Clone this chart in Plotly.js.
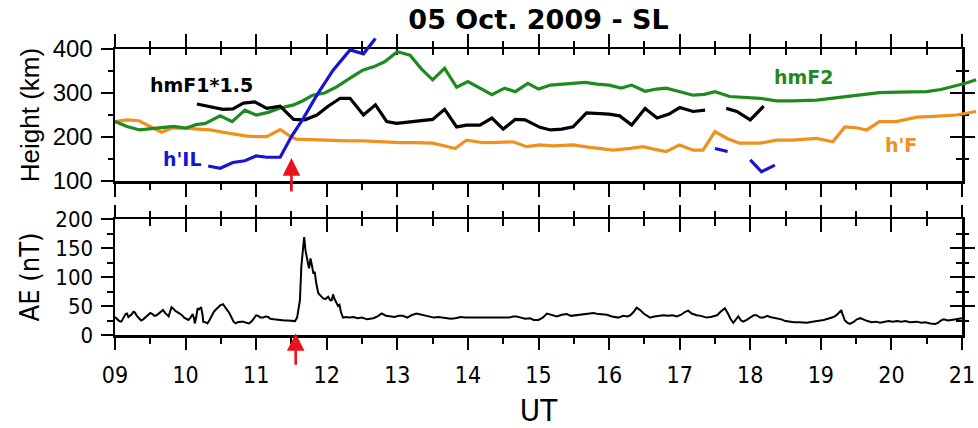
<!DOCTYPE html>
<html><head><meta charset="utf-8">
<script src="https://cdn.plot.ly/plotly-3.0.1.min.js"></script>
<style>html,body{margin:0;padding:0;background:#fff}#chart{width:978px;height:428px}</style>
</head><body><div id="chart"></div>
<script>
// ---------------- data ----------------
const hourTicks = [9,10,11,12,13,14,15,16,17,18,19,20,21];
const hourLabels = ['09','10','11','12','13','14','15','16','17','18','19','20','21'];

const hmF2T = [9.0,9.17,9.35,9.5,9.67,9.83,10.0,10.15,10.28,10.49,10.66,10.84,11.0,11.17,11.34,11.53,11.67,11.8,11.97,12.14,12.33,12.51,12.67,12.82,13.0,13.18,13.34,13.5,13.67,13.84,14.0,14.17,14.34,14.52,14.67,14.85,15.0,15.17,15.34,15.5,15.66,15.83,16.0,16.17,16.32,16.51,16.67,16.81,17.0,17.19,17.35,17.5,17.71,17.9,18.14,18.37,18.6,18.94,19.15,19.36,19.6,19.83,20.1,20.3,20.5,20.7,20.87,21.05,21.2];
const hmF2V = [235,224,216,218,221,224,220,228,231,248,235,261,250,256,266,273,283,295,300,314,334,352,360,371,394,386,355,330,356,313,326,310,296,311,303,322,309,318,320,322,324,320,318,311,318,304,309,311,303,295,297,303,292,290,288,282,282,284,288,293,297,301,302,302,303,308,314,322,330];

const hFT = [9.0,9.17,9.34,9.5,9.66,9.8,10.0,10.17,10.35,10.52,10.7,10.87,11.0,11.15,11.34,11.5,11.57,11.75,11.92,12.09,12.3,12.52,12.7,12.87,13.04,13.25,13.5,13.66,13.82,13.98,14.22,14.42,14.64,14.83,15.02,15.2,15.49,15.7,15.9,16.06,16.3,16.48,16.65,16.81,17.0,17.19,17.33,17.5,17.68,17.85,18.0,18.14,18.37,18.6,18.94,19.17,19.34,19.5,19.65,19.83,20.07,20.36,20.6,20.92,21.2];
const hFV = [235,239,237,223,211,220,220,218,216,211,206,202,201,201,217,200,195,194,192,191,191,191,189,188,187,187,186,180,174,193,187,188,189,178,182,180,182,177,174,170,174,178,172,167,182,170,170,212,196,186,186,186,193,193,197,189,223,221,216,235,235,245,247,250,258];

const hmF1T = [10.16,10.33,10.53,10.67,10.82,10.98,11.15,11.34,11.53,11.69,11.86,12.02,12.19,12.33,12.52,12.69,12.85,12.99,13.16,13.32,13.5,13.67,13.84,13.98,14.17,14.34,14.5,14.67,14.81,15.02,15.17,15.33,15.49,15.68,15.85,16.0,16.15,16.32,16.51,16.68,16.85,17.0,17.19,17.36,17.5,17.66,17.81,18.0,18.19];
const hmF1V = [275,270,263,264,277,280,265,270,240,239,250,270,288,288,250,273,235,231,234,235,240,263,223,227,227,243,218,240,239,222,216,218,223,255,253,252,248,227,265,243,252,267,258,261,null,265,258,239,270];

const hILT = [10.32,10.49,10.67,10.84,11.0,11.15,11.34,11.5,11.67,11.86,12.09,12.33,12.52,12.69,13.0,17.5,17.68,17.85,18.0,18.16,18.35];
const hILV = [134,129,142,146,157,154,154,201,243,295,352,398,389,424,null,174,167,null,148,121,136];

const aeT = [9.00,9.03,9.06,9.09,9.12,9.15,9.17,9.19,9.21,9.24,9.26,9.28,9.31,9.34,9.37,9.40,9.43,9.46,9.50,9.53,9.56,9.59,9.62,9.65,9.68,9.71,9.74,9.76,9.78,9.80,9.83,9.86,9.89,9.92,9.95,9.98,10.01,10.04,10.07,10.10,10.12,10.13,10.15,10.17,10.19,10.22,10.24,10.25,10.28,10.31,10.34,10.37,10.40,10.43,10.46,10.49,10.53,10.56,10.59,10.62,10.65,10.68,10.71,10.74,10.78,10.82,10.86,10.90,10.94,10.97,11.00,11.03,11.06,11.10,11.13,11.17,11.20,11.25,11.30,11.35,11.40,11.45,11.50,11.55,11.58,11.60,11.62,11.64,11.66,11.68,11.70,11.72,11.74,11.75,11.77,11.79,11.81,11.83,11.85,11.88,11.91,11.95,11.98,12.02,12.05,12.07,12.09,12.11,12.14,12.16,12.18,12.20,12.23,12.27,12.32,12.38,12.44,12.50,12.57,12.62,12.66,12.72,12.78,12.84,12.90,12.96,13.02,13.08,13.14,13.20,13.27,13.33,13.40,13.46,13.52,13.58,13.64,13.70,13.76,13.82,13.90,13.96,14.03,14.10,14.18,14.25,14.32,14.40,14.45,14.52,14.58,14.64,14.69,14.75,14.81,14.88,14.93,15.00,15.06,15.12,15.19,15.26,15.33,15.40,15.46,15.53,15.59,15.66,15.72,15.78,15.85,15.91,15.97,16.04,16.10,16.13,16.20,16.26,16.30,16.35,16.39,16.44,16.49,16.53,16.58,16.64,16.70,16.77,16.84,16.90,16.96,17.02,17.08,17.12,17.17,17.24,17.30,17.38,17.44,17.50,17.53,17.58,17.64,17.68,17.72,17.76,17.80,17.83,17.87,17.90,17.95,18.00,18.05,18.09,18.14,18.19,18.24,18.28,18.33,18.38,18.44,18.50,18.56,18.62,18.70,18.80,18.88,18.96,19.04,19.10,19.18,19.23,19.27,19.29,19.31,19.34,19.38,19.41,19.46,19.51,19.56,19.61,19.66,19.72,19.78,19.84,19.90,19.96,20.02,20.08,20.14,20.20,20.26,20.32,20.36,20.42,20.48,20.55,20.62,20.66,20.70,20.74,20.80,20.85,20.90,20.95,21.00];
const aeV = [31,27,24,23,30,36,37,31,33,36,40,39,33,28,25,27,30,34,38,36,33,34,37,40,43,38,35,32,40,48,45,41,39,37,34,30,28,26,30,36,29,20,30,46,44,48,35,23,22,20,26,33,40,44,48,51,53,47,43,38,30,23,20,22,23,23,21,20,24,30,34,33,30,30,32,31,28,27,26,26,25,25,24,24,30,45,60,118,150,169,145,129,120,115,132,120,106,109,90,72,68,63,62,66,60,60,70,62,55,50,52,40,30,31,30,31,29,30,27,28,29,32,37,33,32,31,33,33,30,34,37,35,33,32,30,31,30,29,28,29,31,30,30,31,30,31,30,31,30,31,30,32,32,30,28,29,26,26,30,37,34,32,35,36,33,34,34,36,37,38,36,36,35,32,30,30,33,32,34,40,47,43,37,34,30,32,33,34,33,34,32,35,40,42,37,34,33,30,31,33,34,40,46,38,28,21,28,32,25,23,26,30,34,34,30,30,33,31,30,29,27,24,23,22,22,21,23,24,26,28,31,35,40,43,35,25,21,19,22,27,29,26,24,22,23,21,23,24,23,24,23,24,22,23,23,21,22,20,19,21,25,27,25,26,27,28,29];

const onsetTop = 11.5;   // red arrow, ionosonde panel
const onsetAE = 11.56;   // red arrow, AE panel

// ---------------- geometry ----------------
const W = 978, H = 428;
const M = {l:115, r:0, t:30, b:93};
const plotW = W - M.l - M.r, plotH = H - M.t - M.b;
const xRightPx = 962;                       // right frame edge
const topPanel = {top:49, bottom:181};
const aePanel = {top:219, bottom:335};
const fy = px => (H - M.b - px) / plotH;    // pixel row -> paper fraction
const xd = (xRightPx - M.l) / plotW;
const topDom = [fy(topPanel.bottom), fy(topPanel.top)];
const aeDom = [fy(aePanel.bottom), fy(aePanel.top)];
const xExtMax = 9 + 12 / xd;
const yExtMax = 100 + 300 * (1 - topDom[0]) / (topDom[1] - topDom[0]);

const GREEN = '#1f8a1f', ORANGE = '#f0901e', BLUE = '#1616d0', RED = '#e8141c';
const F_NARROW = "'DejaVu Sans Condensed', 'DejaVu Sans', sans-serif";
const F_ARIAL = "'Liberation Sans', Arial, sans-serif";
const F_BOLD = "'DejaVu Sans', Verdana, sans-serif";

const empty = (xa, ya) => ({x:[], y:[], xaxis:xa, yaxis:ya, mode:'lines', showlegend:false, hoverinfo:'skip'});

const traces = [
  empty('x','y'), empty('x3','y'), empty('x','y3'), empty('x','y4'),
  empty('x4','y2'), empty('x2','y5'), empty('x2','y6'),
  {x:hFT, y:hFV, xaxis:'x5', yaxis:'y7', mode:'lines', name:"h'F", line:{color:ORANGE, width:3.2}},
  {x:hmF2T, y:hmF2V, xaxis:'x5', yaxis:'y7', mode:'lines', name:'hmF2', line:{color:GREEN, width:3.2}},
  {x:hmF1T, y:hmF1V, xaxis:'x5', yaxis:'y7', mode:'lines', name:'hmF1*1.5', line:{color:'#000', width:3.2}, connectgaps:false},
  {x:hILT, y:hILV, xaxis:'x5', yaxis:'y7', mode:'lines', name:"h'IL", line:{color:BLUE, width:3.2}, connectgaps:false},
  {x:aeT, y:aeV, xaxis:'x2', yaxis:'y2', mode:'lines', name:'AE', line:{color:'#000', width:2}}
];

const baseX = {
  range:[9,21], showgrid:false, zeroline:false, showline:true, linewidth:2.5, linecolor:'#000',
  ticks:'outside', tick0:9, dtick:1, ticklen:13, tickwidth:2, tickcolor:'#000',
  minor:{ticks:'outside', dtick:0.5, ticklen:6, tickwidth:2, tickcolor:'#000'},
  mirror:'ticks', domain:[0, xd]
};
const innerTopX = (anchor, over, len, mlen) => ({
  overlaying:over, anchor:anchor, side:'top', range:[9,21], showgrid:false, zeroline:false, showline:false,
  ticks:'inside', tick0:9, dtick:1, ticklen:len, tickwidth:2, tickcolor:'#000', showticklabels:false,
  minor:{ticks:'inside', dtick:0.5, ticklen:mlen, tickwidth:2, tickcolor:'#000'}
});
const rightY = (over, anchor, range, dir, majors, minors, len, mlen) => ({
  overlaying:over, anchor:anchor, side:'right', range:range, showgrid:false, zeroline:false, showline:false,
  ticks:dir, tickmode:'array', tickvals:majors, ticklen:len, tickwidth:2, tickcolor:'#000', showticklabels:false,
  minor:{ticks:dir, tickmode:'array', tickvals:minors, ticklen:mlen, tickwidth:2, tickcolor:'#000'}
});

const layout = {
  width:W, height:H, margin:M, showlegend:false,
  paper_bgcolor:'#fff', plot_bgcolor:'rgba(0,0,0,0)',
  title:{text:'05 Oct. 2009 - SL', font:{family:F_BOLD, size:27, color:'#000', weight:'bold'},
         x:(M.l + xRightPx)/2/W, xanchor:'center', xref:'container', y:1 - 20/H, yanchor:'middle', yref:'container'},
  xaxis: Object.assign({}, baseX, {anchor:'y', showticklabels:false}),
  yaxis: {domain:topDom, anchor:'x', range:[100,400], showgrid:false, zeroline:false, showline:true, linewidth:2.5, linecolor:'#000', mirror:true,
          ticks:'outside', tick0:100, dtick:100, ticklen:12, tickwidth:2, tickcolor:'#000',
          minor:{ticks:'outside', dtick:50, ticklen:5, tickwidth:2, tickcolor:'#000'},
          tickfont:{family:F_ARIAL, size:24, color:'#000'}, ticklabelstandoff:3,
          title:{text:'Height (km)', font:{family:F_ARIAL, size:26, color:'#000'}, standoff:6}},
  xaxis3: innerTopX('y', 'x', 6, 6),
  yaxis3: rightY('y', 'x', [100,400], 'outside', [200,300], [150,250,350], 12, 6),
  yaxis4: rightY('y', 'x', [100,400], 'inside', [200,300], [150,250,350], 12, 6),

  xaxis2: Object.assign({}, baseX, {anchor:'y2', tickmode:'array', tickvals:hourTicks, ticktext:hourLabels, ticklen:12,
          tickfont:{family:F_NARROW, size:23, color:'#000'}, ticklabelstandoff:6,
          title:{text:'UT', font:{family:F_NARROW, size:31, color:'#000'}, standoff:22}}),
  yaxis2: {domain:aeDom, anchor:'x2', range:[0,200], showgrid:false, zeroline:false, showline:true, linewidth:2.5, linecolor:'#000', mirror:true,
          ticks:'outside', tick0:0, dtick:50, ticklen:12, tickwidth:2, tickcolor:'#000',
          minor:{ticks:'outside', dtick:25, ticklen:6, tickwidth:2, tickcolor:'#000'},
          tickfont:{family:F_NARROW, size:22, color:'#000'}, ticklabelstandoff:3,
          title:{text:'AE (nT)', font:{family:F_NARROW, size:27, color:'#000'}, standoff:8}},
  xaxis4: innerTopX('y2', 'x2', 13, 7),
  yaxis5: rightY('y2', 'x2', [0,200], 'outside', [50,100,150], [25,75,125,175], 12, 6),
  yaxis6: rightY('y2', 'x2', [0,200], 'inside', [50,100,150], [25,75,125,175], 12, 6),

  xaxis5: {domain:[0,1], anchor:'y7', range:[9, xExtMax], visible:false},
  yaxis7: {domain:[topDom[0], 1], anchor:'x5', range:[100, yExtMax], visible:false},

  annotations:[
    {xref:'x', yref:'y', x:10.22, y:319, text:'hmF1*1.5', showarrow:false, font:{family:F_BOLD, size:19, color:'#000', weight:'bold'}},
    {xref:'x', yref:'y', x:9.956, y:151, text:"h'IL", showarrow:false, font:{family:F_BOLD, size:19, color:BLUE, weight:'bold'}},
    {xref:'x', yref:'y', x:18.755, y:337, text:'hmF2', showarrow:false, font:{family:F_BOLD, size:19, color:GREEN, weight:'bold'}},
    {xref:'x', yref:'y', x:20.14, y:182, text:"h'F", showarrow:false, font:{family:F_BOLD, size:19, color:ORANGE, weight:'bold'}},
    {xref:'x', yref:'y', x:onsetTop, y:152, text:'', showarrow:true, ax:0, ay:35, axref:'pixel', ayref:'pixel',
     arrowhead:2, arrowsize:1.35, arrowwidth:2.6, arrowcolor:RED, standoff:0},
    {xref:'x2', yref:'y2', x:onsetAE, y:3, text:'', showarrow:true, ax:0, ay:33, axref:'pixel', ayref:'pixel',
     arrowhead:2, arrowsize:1.35, arrowwidth:2.6, arrowcolor:RED, standoff:0}
  ]
};

Plotly.newPlot('chart', traces, layout, {staticPlot:true, displayModeBar:false});
</script></body></html>
